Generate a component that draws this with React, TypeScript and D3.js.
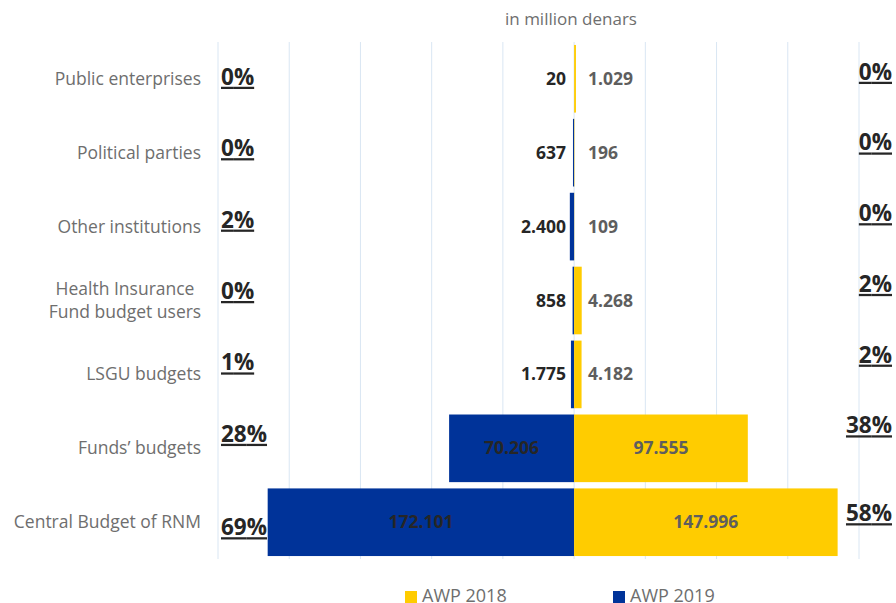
import * as d3 from "d3";

const categories = [
  "Public enterprises",
  "Political parties",
  "Other institutions",
  "Health Insurance\nFund budget users",
  "LSGU budgets",
  "Funds’ budgets",
  "Central Budget of RNM",
];
// million denars
const awp2019 = [20, 637, 2400, 858, 1775, 70206, 172101];
const awp2018 = [1029, 196, 109, 4268, 4182, 97555, 147996];
// share of total, %
const share2019 = [0, 0, 2, 0, 1, 28, 69];
const share2018 = [0, 0, 0, 2, 2, 38, 58];
const gridTicks = [-200000, -160000, -120000, -80000, -40000, 0, 40000, 80000, 120000, 160000];

const BLUE = "#003399";
const YELLOW = "#FFCC00";
const GRAY = "#5E5E5E";
const LIGHT = "#6E6E6E";
const DARK = "#262626";
const FONT = "'Open Sans', 'Noto Sans', sans-serif";

const mk = d3.formatLocale({ decimal: ",", thousands: ".", grouping: [3], currency: ["", ""] });
const fmt = mk.format(",");

export default function App() {
  const width = 896;
  const height = 603;
  const plot = { left: 218, right: 859, top: 42, bottom: 559 };

  const x = d3.scaleLinear().domain([-200000, 160000]).range([plot.left, plot.right]);
  const y = d3
    .scaleBand()
    .domain(categories)
    .range([plot.top, plot.bottom])
    .paddingInner(0.085)
    .paddingOuter(0.04);
  const x0 = x(0);
  const bw = y.bandwidth();
  const last = categories.length - 1;

  return (
    <svg
      width={width}
      height={height}
      viewBox={`0 0 ${width} ${height}`}
      style={{ position: "absolute", left: 0, top: 0, background: "#fff" }}
      fontFamily={FONT}
    >
      <text x={571} y={25} textAnchor="middle" fontSize={17} fill={LIGHT}>
        in million denars
      </text>

      {gridTicks.map((t) => (
        <line key={t} x1={x(t)} x2={x(t)} y1={plot.top} y2={plot.bottom} stroke="#D9E6F3" strokeWidth={1} />
      ))}

      {categories.map((cat, i) => {
        const top = y(cat) ?? 0;
        const cy = top + bw / 2;
        const v19 = awp2019[i];
        const v18 = awp2018[i];
        const in19 = v19 > 20000;
        const in18 = v18 > 20000;
        const lines = cat.split("\n");
        const leftPctY = i === last ? cy + 13 : cy + 6 - 2.5 * i;
        const rightPctY = i === last ? cy - 1 : cy + 1 - 3.2 * i;
        return (
          <g key={cat}>
            <rect x={x(-v19)} y={top} width={x0 - x(-v19)} height={bw} fill={BLUE} />
            <rect x={x0} y={top} width={x(v18) - x0} height={bw} fill={YELLOW} />

            {lines.length === 1 ? (
              <text x={201} y={cy + 6} textAnchor="end" fontSize={17.5} fill={LIGHT}>
                {cat}
              </text>
            ) : (
              lines.map((ln, k) => (
                <text key={ln} x={125} y={cy + 6 + (k - (lines.length - 1) / 2) * 23} textAnchor="middle" fontSize={17.5} fill={LIGHT}>
                  {ln}
                </text>
              ))
            )}

            <text
              x={in19 ? (x(-v19) + x0) / 2 : x0 - 8}
              y={cy + 6}
              textAnchor={in19 ? "middle" : "end"}
              fontSize={17.5}
              fontWeight={700}
              fill={DARK}
            >
              {fmt(v19)}
            </text>
            <text
              x={in18 ? (x(v18) + x0) / 2 : x0 + 14}
              y={cy + 6}
              textAnchor={in18 ? "middle" : "start"}
              fontSize={17.5}
              fontWeight={700}
              fill={GRAY}
            >
              {fmt(v18)}
            </text>

            <text x={221} y={leftPctY} fontSize={22.5} fontWeight={700} fill={DARK} textDecoration="underline">
              {share2019[i]}%
            </text>
            <text x={892} y={rightPctY} textAnchor="end" fontSize={22.5} fontWeight={700} fill={DARK} textDecoration="underline">
              {share2018[i]}%
            </text>
          </g>
        );
      })}

      <g>
        <rect x={405} y={591} width={12} height={12} fill={YELLOW} />
        <text x={422} y={602} fontSize={18} fill={LIGHT}>
          AWP 2018
        </text>
        <rect x={613} y={591} width={12} height={12} fill={BLUE} />
        <text x={630} y={602} fontSize={18} fill={LIGHT}>
          AWP 2019
        </text>
      </g>
    </svg>
  );
}
